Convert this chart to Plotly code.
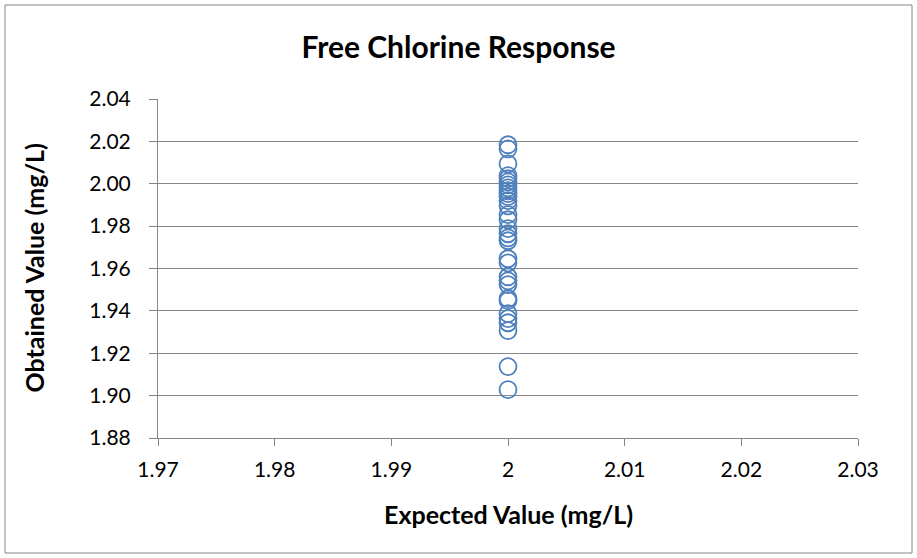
import plotly.graph_objects as go

expected = [2.0] * 32
obtained = [2.0184, 2.0165, 2.0094, 2.0038, 2.0024, 2.0009, 1.9995, 1.9981,
            1.9967, 1.9953, 1.9939, 1.9920, 1.9896, 1.9854, 1.9830, 1.9788,
            1.9764, 1.9745, 1.9731, 1.9646, 1.9627, 1.9561, 1.9542, 1.9524,
            1.9458, 1.9448, 1.9387, 1.9363, 1.9344, 1.9307, 1.9137, 1.9028]
x_ticks = [1.97, 1.98, 1.99, 2.0, 2.01, 2.02, 2.03]
x_tick_labels = ["1.97", "1.98", "1.99", "2", "2.01", "2.02", "2.03"]
y_ticks = [1.88, 1.90, 1.92, 1.94, 1.96, 1.98, 2.00, 2.02, 2.04]
y_tick_labels = ["1.88", "1.90", "1.92", "1.94", "1.96", "1.98", "2.00", "2.02", "2.04"]

FONT = "Lato, Calibri, sans-serif"
W, H = 917, 558
L, R, T, B = 158, 59, 99, 120
pw, ph = W - L - R, H - T - B

fig = go.Figure(go.Scatter(
    x=expected, y=obtained, mode="markers",
    marker=dict(symbol="circle-open", size=17, color="#4F81BD", line=dict(width=1.8)),
    showlegend=False, hoverinfo="x+y"))

fig.update_layout(
    width=W, height=H, margin=dict(l=L, r=R, t=T, b=B),
    paper_bgcolor="white", plot_bgcolor="white",
    font=dict(family=FONT, color="black"),
    title=dict(text="<b>Free Chlorine Response</b>", x=0.5, xanchor="center",
               y=1 - 47 / H, yanchor="middle", font=dict(size=30, family=FONT)),
    xaxis=dict(range=[1.97, 2.03], tickvals=x_ticks, ticktext=x_tick_labels,
               showgrid=False, zeroline=False, showline=True, linecolor="#868686",
               linewidth=1, ticks="outside", ticklen=7, tickcolor="#868686",
               ticklabelstandoff=6,
               tickfont=dict(size=21, family=FONT)),
    yaxis=dict(range=[1.88, 2.04], tickvals=y_ticks, ticktext=y_tick_labels,
               showgrid=True, gridcolor="#868686", gridwidth=1, zeroline=False,
               showline=True, linecolor="#868686", linewidth=1,
               ticks="outside", ticklen=8, tickcolor="#868686",
               ticklabelstandoff=14,
               tickfont=dict(size=21, family=FONT)),
    annotations=[
        dict(text="<b>Expected Value (mg/L)</b>", xref="paper", yref="paper",
             x=0.5, y=-(514 - T - ph) / ph, xanchor="center", yanchor="middle",
             showarrow=False, font=dict(size=25, family=FONT)),
        dict(text="<b>Obtained Value (mg/L)</b>", xref="paper", yref="paper",
             x=(33 - L) / pw, y=0.5, xanchor="center", yanchor="middle",
             textangle=-90, showarrow=False, font=dict(size=25, family=FONT)),
    ],
    shapes=[dict(type="rect", xref="paper", yref="paper",
                 x0=(5 - L) / pw, x1=(912 - L) / pw,
                 y0=-(553 - T - ph) / ph, y1=1 + (T - 5) / ph,
                 line=dict(color="#868686", width=1), fillcolor="rgba(0,0,0,0)",
                 layer="below")],
)

fig.write_html("out.html", config={"displayModeBar": False},
               post_script="document.body.style.margin='0px';")
